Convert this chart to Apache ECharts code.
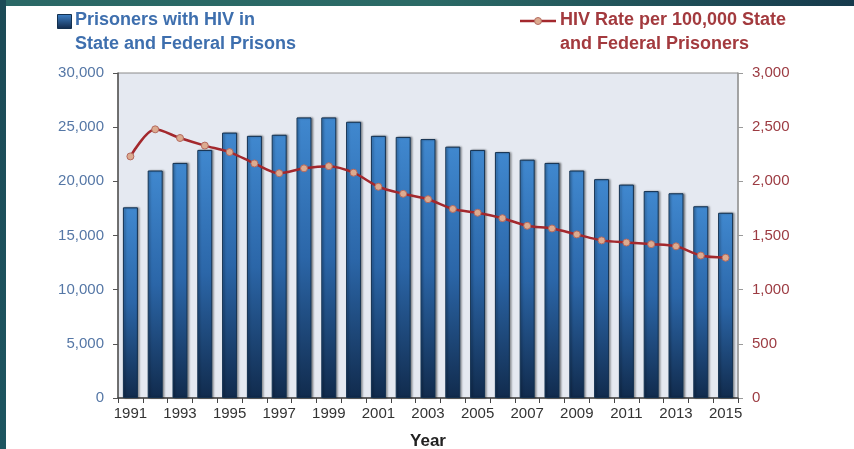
<!DOCTYPE html>
<html>
<head>
<meta charset="utf-8">
<script src="https://cdn.jsdelivr.net/npm/echarts@6/dist/echarts.min.js"></script>
<style>
html,body{margin:0;padding:0;background:#fff;}
#c{width:854px;height:449px;}
</style>
</head>
<body>
<div id="c"></div>
<script>
const years = ['1991','1992','1993','1994','1995','1996','1997','1998','1999','2000','2001','2002','2003','2004','2005','2006','2007','2008','2009','2010','2011','2012','2013','2014','2015'];
const prisonersWithHIV = [17600,21000,21700,22900,24500,24200,24300,25900,25900,25500,24200,24100,23900,23200,22900,22700,22000,21700,21000,20200,19700,19100,18900,17700,17100];
const hivRate = [2230,2480,2400,2330,2270,2165,2075,2120,2140,2080,1950,1885,1835,1745,1710,1660,1590,1565,1510,1455,1435,1420,1400,1315,1295];
const leftTicks = [0,5000,10000,15000,20000,25000,30000];
const rightTicks = [0,500,1000,1500,2000,2500,3000];

const fmt = v => v.toLocaleString('en-US');
const FONT = '"Liberation Sans", Arial, sans-serif';

const chart = echarts.init(document.getElementById('c'), null, {renderer:'canvas'});
chart.setOption({
  backgroundColor:'#ffffff',
  animation:false,
  grid:{left:118,right:116,top:73,bottom:51,outerBoundsMode:'none',containLabel:false,show:true,backgroundColor:'#e5e9f1',borderColor:'#8a8a8a',borderWidth:1},
  xAxis:{
    type:'category',data:years,boundaryGap:true,
    axisLine:{lineStyle:{color:'#444',width:1.5}},
    axisTick:{show:true,interval:0,length:5,lineStyle:{color:'#444'}},
    axisLabel:{interval:1,color:'#333',fontSize:15,fontFamily:FONT,margin:8},
    name:'Year',nameLocation:'middle',nameGap:35,
    nameTextStyle:{fontSize:17,fontWeight:'bold',color:'#222',fontFamily:FONT}
  },
  yAxis:[{
    type:'value',min:leftTicks[0],max:leftTicks[leftTicks.length-1],interval:leftTicks[1]-leftTicks[0],
    axisLine:{show:true,lineStyle:{color:'#555',width:1.5}},
    axisTick:{show:true,length:5,lineStyle:{color:'#555'}},
    splitLine:{show:false},
    axisLabel:{formatter:fmt,color:'#5577a6',fontSize:15,fontFamily:FONT,margin:14}
  },{
    type:'value',min:rightTicks[0],max:rightTicks[rightTicks.length-1],interval:rightTicks[1]-rightTicks[0],
    position:'right',
    axisLine:{show:true,lineStyle:{color:'#9a9a9a',width:1.5}},
    axisTick:{show:true,length:5,lineStyle:{color:'#9a9a9a'}},
    splitLine:{show:false},
    axisLabel:{formatter:fmt,color:'#9c3b42',fontSize:15,fontFamily:FONT,margin:14}
  }],
  series:[{
    name:'Prisoners with HIV in State and Federal Prisons',
    type:'bar',data:prisonersWithHIV,yAxisIndex:0,barWidth:15,
    itemStyle:{
      color:new echarts.graphic.LinearGradient(0,0,0,1,[
        {offset:0,color:'#4088cf'},{offset:0.5,color:'#2b66a8'},{offset:1,color:'#112b4d'}]),
      borderColor:'#13304f',borderWidth:1,
      shadowColor:'rgba(0,0,0,0.35)',shadowOffsetX:1.5,shadowBlur:2
    }
  },{
    name:'HIV Rate per 100,000 State and Federal Prisoners',
    type:'line',data:hivRate,yAxisIndex:1,smooth:0.3,
    symbol:'circle',symbolSize:7,
    lineStyle:{color:'#a3282d',width:2.5},
    itemStyle:{color:'#dcab90',borderColor:'#b46a5f',borderWidth:1},
    z:5
  }],
  graphic:[
    {type:'rect',left:0,top:0,shape:{width:854,height:6},z:100,
     style:{fill:new echarts.graphic.LinearGradient(0,0,1,0,[{offset:0,color:'#2a6866'},{offset:0.5,color:'#2b6a66'},{offset:1,color:'#163a4c'}])}},
    {type:'rect',left:0,top:0,shape:{width:6,height:449},z:100,
     style:{fill:new echarts.graphic.LinearGradient(0,0,0,1,[{offset:0,color:'#1c4a56'},{offset:1,color:'#1d5560'}])}},
    {type:'rect',left:57,top:14,shape:{width:14,height:14},z:50,
     style:{fill:new echarts.graphic.LinearGradient(0,0,0,1,[{offset:0,color:'#3f82c8'},{offset:1,color:'#11294a'}]),stroke:'#13304f',lineWidth:1}},
    {type:'text',left:75,top:11,z:50,style:{text:'Prisoners with HIV in',fill:'#3e6fae',font:'bold 18px '+FONT}},
    {type:'text',left:75,top:35,z:50,style:{text:'State and Federal Prisons',fill:'#3e6fae',font:'bold 18px '+FONT}},
    {type:'line',z:50,shape:{x1:520,y1:21,x2:556,y2:21},style:{stroke:'#a3282d',lineWidth:2.5}},
    {type:'circle',z:51,shape:{cx:538,cy:21,r:3.5},style:{fill:'#dcab90',stroke:'#b46a5f',lineWidth:1}},
    {type:'text',left:560,top:11,z:50,style:{text:'HIV Rate per 100,000 State',fill:'#a33a3e',font:'bold 18px '+FONT}},
    {type:'text',left:560,top:35,z:50,style:{text:'and Federal Prisoners',fill:'#a33a3e',font:'bold 18px '+FONT}}
  ]
});
</script>
</body>
</html>
